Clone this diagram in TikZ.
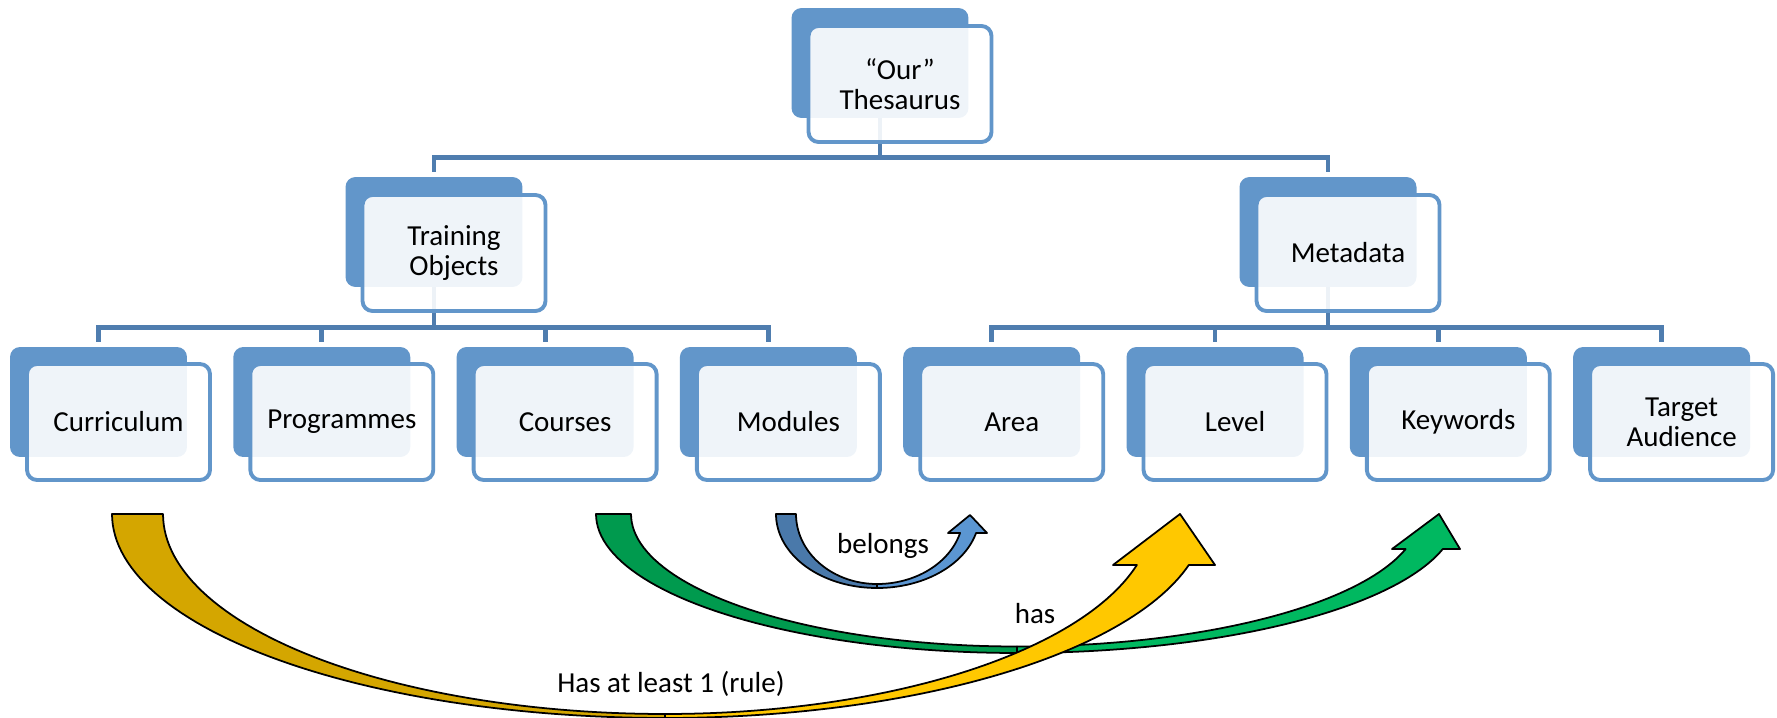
\documentclass[tikz,border=0pt]{standalone}
\usepackage{fontspec}
\setmainfont{Carlito}
\usepackage{tikz}
\usetikzlibrary{calc, positioning}

\definecolor{boxblue}{RGB}{98,150,202}
\definecolor{linkblue}{RGB}{79,125,175}
\definecolor{golddark}{RGB}{212,166,0}
\definecolor{goldlight}{RGB}{255,200,0}
\definecolor{greendark}{RGB}{0,154,78}
\definecolor{greenlight}{RGB}{0,184,96}
\definecolor{bluedark}{RGB}{74,121,170}
\definecolor{bluelight}{RGB}{91,150,210}

\begin{document}
\begin{tikzpicture}[x=0.02cm, y=-0.02cm,
    backbox/.style={rectangle, rounded corners=0.2cm, fill=boxblue, minimum width=3.54cm, minimum height=2.2cm, inner sep=0pt},
    frontbox/.style={rectangle, rounded corners=0.2cm, draw=boxblue, line width=2.2pt, fill=white, fill opacity=0.9, text opacity=1, minimum width=3.66cm, minimum height=2.32cm, inner sep=0pt, align=center, font=\fontsize{16.5}{17.2}\selectfont},
    link/.style={draw=linkblue, line width=2.8pt, shorten >=0.1cm},
    band/.style={draw=black, line width=1pt, line join=round},
    lbl/.style={anchor=base, font=\fontsize{16.5}{16.5}\selectfont}]
    \useasboundingbox (0,0) rectangle (1777,717);

    % 1. Khung sau (nen xanh)
    \node[backbox] (thes) at (880,63) {};
    \node[backbox] (train) at (434,232) {};
    \node[backbox] (meta) at (1328,232) {};
    \node[backbox] (curr) at (98.5,402) {};
    \node[backbox] (prog) at (321.8,402) {};
    \node[backbox] (cour) at (545.1,402) {};
    \node[backbox] (modu) at (768.4,402) {};
    \node[backbox] (area) at (991.7,402) {};
    \node[backbox] (levl) at (1215,402) {};
    \node[backbox] (keyw) at (1438.3,402) {};
    \node[backbox] (targ) at (1661.6,402) {};

    % 2. Duong noi cay
    \draw[link] (thes.south) -- ++(0,39) -| (train.north);
    \draw[link] (thes.south) -- ++(0,39) -| (meta.north);
    \draw[link] (train.south) -- ++(0,40) -| (curr.north);
    \draw[link] (train.south) -- ++(0,40) -| (prog.north);
    \draw[link] (train.south) -- ++(0,40) -| (cour.north);
    \draw[link] (train.south) -- ++(0,40) -| (modu.north);
    \draw[link] (meta.south) -- ++(0,40) -| (area.north);
    \draw[link] (meta.south) -- ++(0,40) -| (levl.north);
    \draw[link] (meta.south) -- ++(0,40) -| (keyw.north);
    \draw[link] (meta.south) -- ++(0,40) -| (targ.north);

    % 3. Khung truoc (chu)
    \node[frontbox] (thesF) at ($(thes)+(20,21)$) {“Our”\\Thesaurus};
    \node[frontbox] (trainF) at ($(train)+(20,21)$) {Training\\Objects};
    \node[frontbox] (metaF) at ($(meta)+(20,21)$) {Metadata};
    \node[frontbox] (currF) at ($(curr)+(20,20)$) {Curriculum};
    \node[frontbox] (progF) at ($(prog)+(20,20)$) {Programmes};
    \node[frontbox] (courF) at ($(cour)+(20,20)$) {Courses};
    \node[frontbox] (moduF) at ($(modu)+(20,20)$) {Modules};
    \node[frontbox] (areaF) at ($(area)+(20,20)$) {Area};
    \node[frontbox] (levlF) at ($(levl)+(20,20)$) {Level};
    \node[frontbox] (keywF) at ($(keyw)+(20,20)$) {Keywords};
    \node[frontbox] (targF) at ($(targ)+(20,20)$) {Target\\Audience};

    % 4. Mui ten cong: belongs
    \draw[band, fill=bluedark] plot[domain=180:90, samples=40] ({877+101*cos(\x)}, {514+74*sin(\x)})
        -- plot[domain=90:180, samples=40] ({877+81*cos(\x)}, {514+70*sin(\x)}) -- cycle;
    \draw[band, fill=bluelight] plot[domain=90:14.88, samples=40] ({877+102.5*cos(\x)}, {514+74*sin(\x)})
        -- (987,533) -- (970,515) -- (948,533)
        -- plot[domain=15.75:90, samples=40] ({877+86.3*cos(\x)}, {514+70*sin(\x)}) -- cycle;

    % 5. Mui ten cong: has
    \draw[band, fill=greendark] plot[domain=180:90, samples=50] ({1017+421*cos(\x)}, {514+139*sin(\x)})
        -- plot[domain=90:180, samples=50] ({1017+386*cos(\x)}, {514+132.5*sin(\x)}) -- cycle;
    \draw[band, fill=greenlight] plot[domain=90:14.58, samples=50] ({1017+440*cos(\x)}, {514+139*sin(\x)})
        -- (1460,549) -- (1439,514) -- (1392,549)
        -- plot[domain=15.32:90, samples=50] ({1017+403*cos(\x)}, {514+132.5*sin(\x)}) -- cycle;

    % 6. Mui ten cong: has at least 1
    \draw[band, fill=golddark] plot[domain=180:90, samples=60] ({665+553*cos(\x)}, {514+204*sin(\x)})
        -- plot[domain=90:180, samples=60] ({665+502*cos(\x)}, {514+200*sin(\x)}) -- cycle;
    \draw[band, fill=goldlight] plot[domain=90:14.48, samples=60] ({665+541*cos(\x)}, {514+204*sin(\x)})
        -- (1215,565) -- (1180,514) -- (1113,565)
        -- plot[domain=14.77:90, samples=60] ({665+488*cos(\x)}, {514+200*sin(\x)}) -- cycle;

    % 7. Nhan
    \node[lbl] (belongs) at (883,553) {belongs};
    \node[lbl] (has) at (1035,623) {has};
    \node[lbl] (rule) at (671,692) {Has at least 1 (rule)};
\end{tikzpicture}
\end{document}
